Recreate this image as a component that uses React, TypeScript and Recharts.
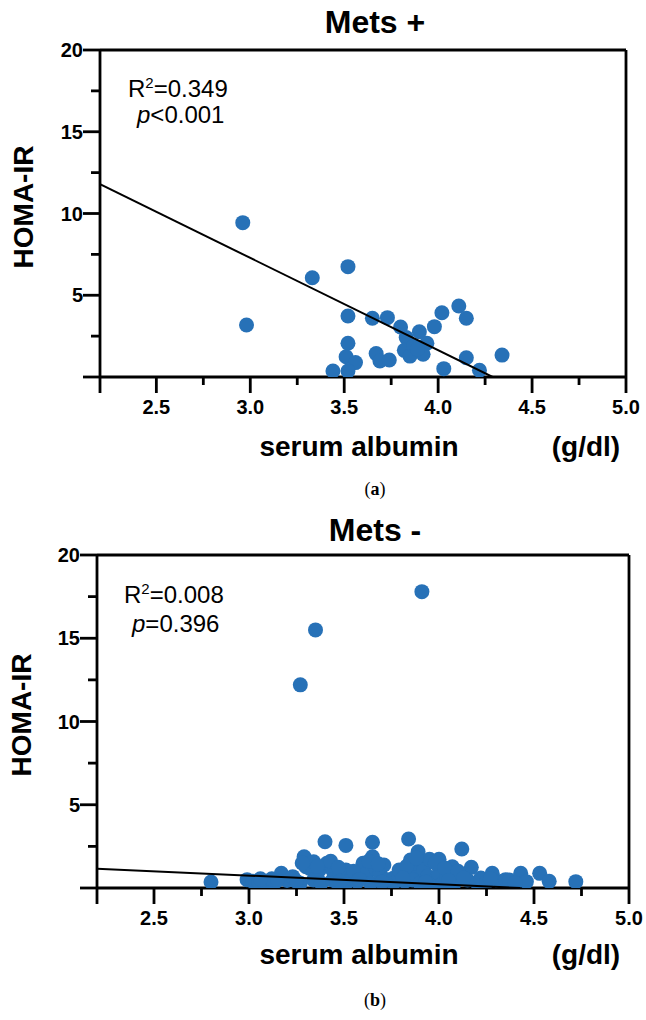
import React from 'react';
import { ComposedChart, Scatter, XAxis, YAxis, ReferenceLine } from 'recharts';

// ---------- axis ticks ----------
const xTicks = [2.2, 2.5, 2.75, 3.0, 3.25, 3.5, 3.75, 4.0, 4.25, 4.5, 4.75, 5.0];
const xLabelTicks = [2.5, 3.0, 3.5, 4.0, 4.5, 5.0];
const yTicks = [0, 2.5, 5, 7.5, 10, 12.5, 15, 17.5, 20];
const yLabelTicks = [5, 10, 15, 20];

// ---------- (a) Mets + ----------
const metsPlusAlbumin = [2.96, 2.98, 3.33, 3.52, 3.52, 3.52, 3.51, 3.56, 3.44, 3.52, 3.65, 3.73, 3.67, 3.69, 3.74, 3.80, 3.83, 3.90, 3.94, 3.82, 3.85, 3.92, 3.87, 3.98, 4.02, 4.11, 4.15, 4.15, 4.03, 4.22, 4.34, 3.89];
const metsPlusHoma = [9.44, 3.18, 6.07, 6.75, 3.73, 2.06, 1.24, 0.88, 0.37, 0.37, 3.59, 3.63, 1.43, 0.98, 1.04, 3.06, 2.41, 2.77, 2.06, 1.63, 1.28, 1.39, 1.9, 3.08, 3.93, 4.34, 3.59, 1.18, 0.51, 0.41, 1.34, 1.70];
const fitPlusAlbumin = [2.2, 4.29];
const fitPlusHoma = [11.8, 0];

// ---------- (b) Mets - ----------
const metsMinusAlbumin = [
  2.80, 2.99, 3.02, 3.05, 3.09, 3.13, 3.17, 3.12, 3.20, 3.23, 3.27, 3.29, 3.30, 3.32, 3.34, 3.34, 3.37, 3.38,
  3.40, 3.41, 3.44, 3.44, 3.46, 3.48, 3.51, 3.51, 3.51, 3.54, 3.57, 3.57, 3.60, 3.61, 3.62, 3.64, 3.65, 3.65,
  3.67, 3.69, 3.71, 3.73, 3.76, 3.76, 3.79, 3.79, 3.82, 3.84, 3.85, 3.86, 3.86, 3.86, 3.89, 3.90, 3.92, 3.92,
  3.94, 3.95, 3.97, 3.97, 4.00, 4.00, 4.02, 4.04, 4.07, 4.08, 4.11, 4.12, 4.15, 4.17, 4.20, 4.22, 4.25, 4.28,
  4.32, 4.35, 4.37, 4.43, 4.46, 4.53, 4.58, 4.72, 3.27, 3.35, 3.91,
  3.28, 3.36, 3.43, 3.47, 3.55, 3.63, 3.68, 3.83, 3.88, 3.98, 4.03, 4.10, 3.06, 3.15, 3.25, 3.58, 3.70, 3.81,
  4.05, 4.13, 4.27, 4.40, 3.93, 3.48,
];
const metsMinusHoma = [
  0.36, 0.50, 0.40, 0.36, 0.38, 0.28, 0.88, 0.55, 0.45, 0.68, 0.28, 1.88, 1.28, 1.18, 1.58, 0.48, 1.08, 0.30,
  2.78, 1.48, 1.08, 0.48, 0.38, 0.80, 2.56, 1.08, 0.28, 0.60, 0.68, 0.38, 1.48, 1.38, 0.88, 0.28, 2.75, 1.88,
  1.10, 0.88, 1.38, 0.50, 0.58, 0.28, 0.68, 1.08, 0.40, 2.94, 1.68, 0.88, 0.48, 1.48, 2.18, 0.28, 1.48, 1.08,
  0.70, 1.72, 0.48, 0.38, 1.72, 0.88, 0.30, 0.68, 1.28, 0.28, 0.78, 2.34, 0.48, 1.24, 0.32, 0.60, 0.35, 0.88,
  0.38, 0.50, 0.48, 0.88, 0.38, 0.88, 0.40, 0.38, 12.2, 15.5, 17.8,
  1.50, 1.30, 1.60, 1.25, 1.00, 1.60, 1.45, 1.30, 1.80, 1.50, 1.20, 1.00, 0.55, 0.45, 0.40, 0.50, 0.35, 0.60,
  0.45, 0.60, 0.55, 0.30, 0.35, 0.40,
];
const fitMinusAlbumin = [2.2, 4.43];
const fitMinusHoma = [1.16, 0];

const zip = (xs: number[], ys: number[]) => xs.map((x, i) => ({ x, y: ys[i] }));

const FONT = "'Liberation Sans', Arial, Helvetica, sans-serif";
const DOT = '#2771B7';
const AXW = 2.8;
const near = (a: number, b: number) => Math.abs(a - b) < 1e-6;

const XTick = (props: any) => {
  const { x, y, payload } = props;
  const v = payload.value as number;
  const labeled = xLabelTicks.some((t) => near(t, v));
  const major = labeled || near(v, xTicks[0]);
  return (
    <g>
      <line x1={x} x2={x} y1={y} y2={y + (major ? 16 : 8)} stroke="#000" strokeWidth={AXW} />
      {labeled && (
        <text x={x} y={y + 37} textAnchor="middle" fontSize={20} fontWeight="bold" fontFamily={FONT} fill="#000">
          {v.toFixed(1)}
        </text>
      )}
    </g>
  );
};

const YTick = (props: any) => {
  const { x, y, payload } = props;
  const v = payload.value as number;
  const labeled = yLabelTicks.some((t) => near(t, v));
  const major = labeled || near(v, 0);
  return (
    <g>
      <line x1={x - (major ? 17 : 9)} x2={x} y1={y} y2={y} stroke="#000" strokeWidth={AXW} />
      {labeled && (
        <text x={x - 17} y={y + 7} textAnchor="end" fontSize={20} fontWeight="bold" fontFamily={FONT} fill="#000">
          {v}
        </text>
      )}
    </g>
  );
};

const Dot = (props: any) => <circle cx={props.cx} cy={props.cy} r={7.5} fill={DOT} />;
const NoDot = () => <g />;

type PanelProps = {
  top: number;
  margin: { top: number; right: number; left: number; bottom: number };
  points: { x: number; y: number }[];
  fit: { x: number; y: number }[];
  title: string;
  r2: string;
  pRel: string;
  pVal: string;
  tag: string;
  t: { title: number; r2x: number; r2y: number; px: number; py: number; yl: [number, number]; xl: number; tag: number };
};

const Panel = ({ top, margin, points, fit, title, r2, pRel, pVal, tag, t }: PanelProps) => (
  <div style={{ position: 'absolute', left: 0, top, width: 646, height: 515 }}>
    <ComposedChart width={646} height={470} margin={margin}>
      <XAxis
        type="number"
        dataKey="x"
        domain={[2.2, 5]}
        allowDataOverflow
        ticks={xTicks}
        interval={0}
        tick={<XTick />}
        tickLine={false}
        tickSize={0}
        tickMargin={0}
        height={40}
        axisLine={{ stroke: '#000', strokeWidth: AXW }}
      />
      <YAxis
        type="number"
        dataKey="y"
        domain={[0, 20]}
        allowDataOverflow
        ticks={yTicks}
        interval={0}
        tick={<YTick />}
        tickLine={false}
        tickSize={0}
        tickMargin={0}
        width={60}
        axisLine={{ stroke: '#000', strokeWidth: AXW }}
      />
      <ReferenceLine y={20} stroke="#000" strokeWidth={AXW} />
      <ReferenceLine x={5} stroke="#000" strokeWidth={AXW} />
      <Scatter data={points} shape={<Dot />} isAnimationActive={false} />
      <Scatter data={fit} shape={<NoDot />} line={{ stroke: '#000', strokeWidth: 2 }} isAnimationActive={false} />
    </ComposedChart>
    <svg width={646} height={515} style={{ position: 'absolute', left: 0, top: 0, pointerEvents: 'none' }}>
      <text x={375} y={t.title} textAnchor="middle" fontSize={32} fontWeight="bold" fontFamily={FONT} fill="#000">
        {title}
      </text>
      <text x={t.r2x} y={t.r2y} fontSize={24} fontFamily={FONT} fill="#000">
        <tspan>R</tspan>
        <tspan fontSize={15} dy={-9}>2</tspan>
        <tspan dy={9}>{'=' + r2}</tspan>
      </text>
      <text x={t.px} y={t.py} fontSize={24} fontFamily={FONT} fill="#000">
        <tspan fontStyle="italic">p</tspan>
        <tspan>{pRel + pVal}</tspan>
      </text>
      <text
        x={t.yl[0]}
        y={t.yl[1]}
        transform={`rotate(-90 ${t.yl[0]} ${t.yl[1]})`}
        textAnchor="middle"
        dominantBaseline="central"
        fontSize={28}
        fontWeight="bold"
        fontFamily={FONT}
        fill="#000"
      >
        HOMA-IR
      </text>
      <text x={359} y={t.xl} textAnchor="middle" fontSize={28} fontWeight="bold" fontFamily={FONT} fill="#000">
        serum albumin
      </text>
      <text x={586} y={t.xl} textAnchor="middle" fontSize={28} fontWeight="bold" fontFamily={FONT} fill="#000">
        (g/dl)
      </text>
      <text x={375} y={t.tag} textAnchor="middle" fontSize={18} fontFamily="'Liberation Serif', 'DejaVu Serif', serif" fill="#000">
        (<tspan fontWeight="bold">{tag}</tspan>)
      </text>
    </svg>
  </div>
);

export default function App() {
  return (
    <div style={{ position: 'absolute', left: 0, top: 0, width: 646, height: 1020, background: '#fff' }}>
      <Panel
        top={0}
        margin={{ top: 50, right: 20, left: 40, bottom: 53 }}
        points={zip(metsPlusAlbumin, metsPlusHoma)}
        fit={zip(fitPlusAlbumin, fitPlusHoma)}
        title="Mets +"
        r2="0.349"
        pRel="<"
        pVal="0.001"
        tag="a"
        t={{ title: 33, r2x: 128, r2y: 97, px: 137, py: 123, yl: [23, 207], xl: 456, tag: 495 }}
      />
      <Panel
        top={505}
        margin={{ top: 50, right: 17, left: 37, bottom: 47 }}
        points={zip(metsMinusAlbumin, metsMinusHoma)}
        fit={zip(fitMinusAlbumin, fitMinusHoma)}
        title="Mets -"
        r2="0.008"
        pRel="="
        pVal="0.396"
        tag="b"
        t={{ title: 36, r2x: 124, r2y: 98, px: 132, py: 127, yl: [21, 210], xl: 459, tag: 501 }}
      />
    </div>
  );
}
